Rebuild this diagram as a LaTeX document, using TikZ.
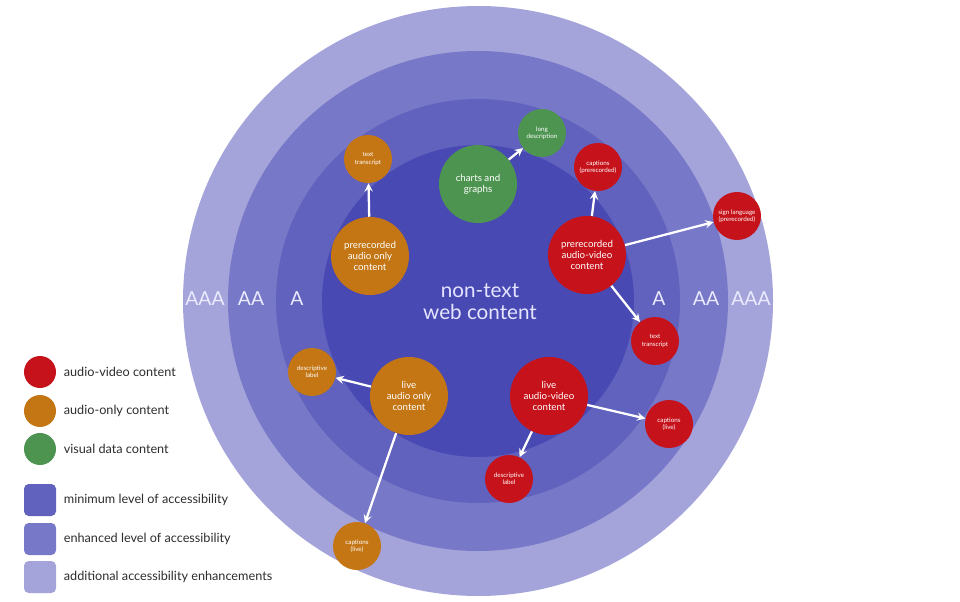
\documentclass[tikz,border=0pt]{standalone}
\usepackage{fontspec}
\setmainfont{Lato}
\usepackage{tikz}
\usetikzlibrary{positioning}
\definecolor{ringAAA}{RGB}{164,164,219}
\definecolor{ringAA}{RGB}{120,120,200}
\definecolor{ringA}{RGB}{97,97,190}
\definecolor{ringcore}{RGB}{73,73,180}
\definecolor{avred}{RGB}{198,18,26}
\definecolor{aoorange}{RGB}{196,118,20}
\definecolor{vdgreen}{RGB}{76,148,80}
\definecolor{keygray}{RGB}{45,45,45}

\begin{document}
\begin{tikzpicture}[x=0.75pt,y=-0.75pt,>=stealth,
  bub/.style={circle,inner sep=0pt,align=center,text=white},
  big/.style={bub,minimum size=58.5pt,font=\fontsize{7.3}{8.4}\selectfont},
  small/.style={bub,minimum size=36pt,font=\fontsize{4.7}{5.4}\selectfont},
  lvl/.style={text=white!92!blue,font=\fontsize{14.5}{16}\selectfont,inner sep=0pt},
  lnk/.style={->,white,line width=1.7pt},
  keydot/.style={circle,minimum size=24pt,inner sep=0pt},
  keybox/.style={rounded corners=3.5pt,minimum size=24pt,inner sep=0pt},
  keytxt/.style={text=keygray,font=\fontsize{9.5}{11}\selectfont,inner sep=0pt,anchor=west}]

  \useasboundingbox (0,0) rectangle (960,602);

  % accessibility rings
  \foreach \r/\c in {295/ringAAA,250/ringAA,202/ringA,156/ringcore}
    \fill[\c] (478,301) circle (\r);
  \foreach \x/\t/\n in {205/AAA/la3,251/AA/la2,297/A/la1,659/A/ra1,706/AA/ra2,751/AAA/ra3}
    \node[lvl] (\n) at (\x,299) {\t};
  \node[text=white!90!blue,align=center,font=\fontsize{15.5}{16.5}\selectfont] (core) at (480,302) {non-text\\web content};

  % content types
  \node[big,fill=avred] (pav) at (587,255) {prerecorded\\audio-video\\content};
  \node[small,fill=avred] (capp) at (598,167) {captions\\(prerecorded)};
  \node[small,fill=avred] (sign) at (737,216) {sign language\\(prerecorded)};
  \node[small,fill=avred] (txtv) at (655,341) {text\\transcript};
  \node[big,fill=avred] (lav) at (549,396) {live\\audio-video\\content};
  \node[small,fill=avred] (capl) at (669,424) {captions\\(live)};
  \node[small,fill=avred] (descv) at (509,479) {descriptive\\label};
  \node[big,fill=aoorange] (pao) at (370,256) {prerecorded\\audio only\\content};
  \node[small,fill=aoorange] (txta) at (368,159) {text\\transcript};
  \node[big,fill=aoorange] (lao) at (409,396) {live\\audio only\\content};
  \node[small,fill=aoorange] (desca) at (312,372) {descriptive\\label};
  \node[small,fill=aoorange] (capa) at (357,546) {captions\\(live)};
  \node[big,fill=vdgreen] (chart) at (478,184) {charts and\\graphs};
  \node[small,fill=vdgreen] (longd) at (542,133) {long\\description};

  \draw[lnk] (pao) -- (txta);
  \draw[lnk] (chart) -- (longd);
  \draw[lnk] (pav) -- (capp);
  \draw[lnk] (pav) -- (sign);
  \draw[lnk] (pav) -- (txtv);
  \draw[lnk] (lav) -- (capl);
  \draw[lnk] (lav) -- (descv);
  \draw[lnk] (lao) -- (desca);
  \draw[lnk] (lao) -- (capa);

  % legend
  \foreach \y/\c/\t/\n in {372/avred/audio-video content/kav,
      411/aoorange/audio-only content/kao,449/vdgreen/visual data content/kvd}{
    \node[keydot,fill=\c] (\n) at (40,\y) {};
    \node[keytxt,right=5.5pt of \n] (\n t) {\t};}
  \foreach \y/\c/\t/\n in {500/ringA/minimum level of accessibility/kmin,
      539/ringAA/enhanced level of accessibility/kenh,
      577/ringAAA/additional accessibility enhancements/kadd}{
    \node[keybox,fill=\c] (\n) at (40,\y) {};
    \node[keytxt,right=5.5pt of \n] (\n t) {\t};}
\end{tikzpicture}
\end{document}
